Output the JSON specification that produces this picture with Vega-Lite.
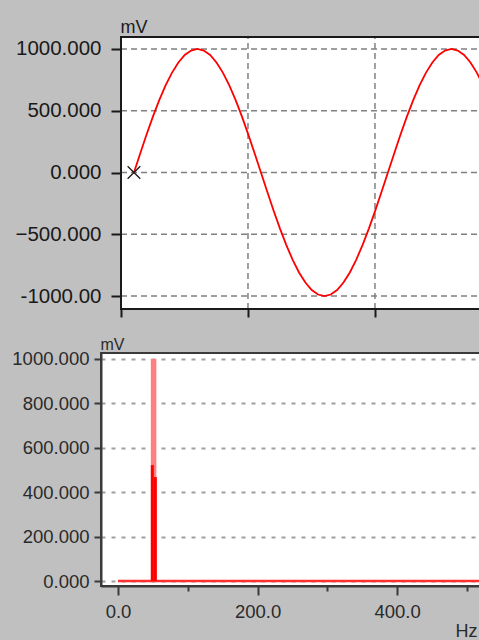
{
  "$schema": "https://vega.github.io/schema/vega-lite/v6.json",
  "background": "#c0c0c0",
  "padding": {"left": 10, "top": 18, "right": 0, "bottom": 0},
  "spacing": 17,
  "config": {"font": "Liberation Sans"},
  "datasets": {
    "wave": [
      {"t": 1.02, "mv": 0}, {"t": 1.52, "mv": 156.4}, {"t": 2.02, "mv": 309.0}, {"t": 2.52, "mv": 454.0},
      {"t": 3.02, "mv": 587.8}, {"t": 3.52, "mv": 707.1}, {"t": 4.02, "mv": 809.0}, {"t": 4.52, "mv": 891.0},
      {"t": 5.02, "mv": 951.1}, {"t": 5.52, "mv": 987.7}, {"t": 6.02, "mv": 1000}, {"t": 6.52, "mv": 987.7},
      {"t": 7.02, "mv": 951.1}, {"t": 7.52, "mv": 891.0}, {"t": 8.02, "mv": 809.0}, {"t": 8.52, "mv": 707.1},
      {"t": 9.02, "mv": 587.8}, {"t": 9.52, "mv": 454.0}, {"t": 10.02, "mv": 309.0}, {"t": 10.52, "mv": 156.4},
      {"t": 11.02, "mv": 0}, {"t": 11.52, "mv": -156.4}, {"t": 12.02, "mv": -309.0}, {"t": 12.52, "mv": -454.0},
      {"t": 13.02, "mv": -587.8}, {"t": 13.52, "mv": -707.1}, {"t": 14.02, "mv": -809.0}, {"t": 14.52, "mv": -891.0},
      {"t": 15.02, "mv": -951.1}, {"t": 15.52, "mv": -987.7}, {"t": 16.02, "mv": -1000}, {"t": 16.52, "mv": -987.7},
      {"t": 17.02, "mv": -951.1}, {"t": 17.52, "mv": -891.0}, {"t": 18.02, "mv": -809.0}, {"t": 18.52, "mv": -707.1},
      {"t": 19.02, "mv": -587.8}, {"t": 19.52, "mv": -454.0}, {"t": 20.02, "mv": -309.0}, {"t": 20.52, "mv": -156.4},
      {"t": 21.02, "mv": 0}, {"t": 21.52, "mv": 156.4}, {"t": 22.02, "mv": 309.0}, {"t": 22.52, "mv": 454.0},
      {"t": 23.02, "mv": 587.8}, {"t": 23.52, "mv": 707.1}, {"t": 24.02, "mv": 809.0}, {"t": 24.52, "mv": 891.0},
      {"t": 25.02, "mv": 951.1}, {"t": 25.52, "mv": 987.7}, {"t": 26.02, "mv": 1000}, {"t": 26.52, "mv": 987.7},
      {"t": 27.02, "mv": 951.1}, {"t": 27.52, "mv": 891.0}, {"t": 28.02, "mv": 809.0}, {"t": 28.52, "mv": 707.1}
    ],
    "marker": [{"t": 1.02, "mv": 0}],
    "frame": [{"t0": 0, "t1": 28.6, "lo": -1105, "hi": 1097}],
    "hgrid": [{"mv": -1000}, {"mv": -500}, {"mv": 0}, {"mv": 500}, {"mv": 1000}],
    "vgrid": [{"t": 10}, {"t": 20}],
    "base": [{"f": 0, "v": 0}, {"f": 100, "v": 0}, {"f": 200, "v": 0}, {"f": 300, "v": 0}, {"f": 400, "v": 0}, {"f": 520, "v": 0}],
    "peak": [{"f": 51, "v": 1000}],
    "bins": [{"f": 49.2, "v": 522}, {"f": 53.5, "v": 468}]
  },
  "vconcat": [
    {
      "width": 380,
      "height": 272,
      "view": {"fill": null, "stroke": null},
      "layer": [
        {
          "data": {"name": "frame"},
          "mark": {"type": "rect", "fill": "white", "strokeWidth": 0},
          "encoding": {
            "x": {"field": "t0", "type": "quantitative",
              "scale": {"domain": [-1.575, 28.35], "nice": false, "zero": false},
              "axis": {"values": [0, 10, 20], "labels": false, "title": null, "tickSize": 8, "tickWidth": 2, "tickColor": "#1a1a1a",
                "domain": false, "grid": false}},
            "x2": {"field": "t1"},
            "y": {"field": "lo", "type": "quantitative",
              "scale": {"domain": [-1105, 1097], "nice": false, "zero": false},
              "axis": {"values": [-1000, -500, 0, 500, 1000], "offset": -20,
                "labelExpr": "datum.value == -1000 ? '-1000.00' : format(datum.value, '.3f')",
                "labelFontSize": 20.5, "labelColor": "#1a1a1a", "labelPadding": 10,
                "tickSize": 10, "tickWidth": 2, "tickColor": "#1a1a1a",
                "domain": false, "grid": false,
                "title": "mV", "titleAngle": 0, "titleAlign": "left", "titleBaseline": "alphabetic",
                "titleX": -1, "titleY": -5, "titleFontSize": 18, "titleFontWeight": "normal", "titleColor": "#1a1a1a"}},
            "y2": {"field": "hi"}
          }
        },
        {
          "data": {"name": "hgrid"},
          "mark": {"type": "rule", "color": "#808080", "strokeWidth": 1.5, "strokeDash": [6, 4]},
          "encoding": {
            "y": {"field": "mv", "type": "quantitative"},
            "x": {"datum": 0},
            "x2": {"datum": 28.6}
          }
        },
        {
          "data": {"name": "vgrid"},
          "mark": {"type": "rule", "color": "#808080", "strokeWidth": 1.5, "strokeDash": [6, 4]},
          "encoding": {
            "x": {"field": "t", "type": "quantitative"},
            "y": {"datum": -1105},
            "y2": {"datum": 1097}
          }
        },
        {
          "data": {"name": "frame"},
          "mark": {"type": "rect", "fill": null, "stroke": "#1a1a1a", "strokeWidth": 2},
          "encoding": {
            "x": {"field": "t0", "type": "quantitative"},
            "x2": {"field": "t1"},
            "y": {"field": "lo", "type": "quantitative"},
            "y2": {"field": "hi"}
          }
        },
        {
          "data": {"name": "wave"},
          "mark": {"type": "line", "color": "#ff0000", "strokeWidth": 1.8, "clip": true},
          "encoding": {
            "x": {"field": "t", "type": "quantitative"},
            "y": {"field": "mv", "type": "quantitative"}
          }
        },
        {
          "data": {"name": "marker"},
          "mark": {"type": "point", "shape": "M-1,-1L1,1M-1,1L1,-1", "filled": false, "stroke": "#1a1a1a", "strokeWidth": 1.3, "size": 160, "opacity": 1},
          "encoding": {
            "x": {"field": "t", "type": "quantitative"},
            "y": {"field": "mv", "type": "quantitative"}
          }
        }
      ]
    },
    {
      "width": 380,
      "height": 233,
      "view": {"fill": "white", "stroke": "#3a3a3a", "strokeWidth": 2},
      "layer": [
        {
          "data": {"name": "base"},
          "mark": {"type": "line", "color": "#ff3030", "strokeWidth": 2.5, "clip": true},
          "encoding": {
            "x": {"field": "f", "type": "quantitative",
              "scale": {"domain": [-24.4, 520.4], "nice": false, "zero": false},
              "axis": {"values": [0, 50, 100, 150, 200, 250, 300, 350, 400, 450, 500],
                "labelExpr": "datum.value % 200 === 0 ? format(datum.value, '.1f') : ''",
                "labelFontSize": 18.5, "labelColor": "#2a2a2a", "labelPadding": 7,
                "tickSize": {"condition": {"test": "datum.value % 200 === 0", "value": 9}, "value": 5},
                "tickWidth": 2, "tickColor": "#3a3a3a", "domainColor": "#3a3a3a", "domainWidth": 2, "grid": false,
                "title": "Hz", "titleAlign": "right", "titleBaseline": "bottom",
                "titleX": 376, "titleY": 54, "titleFontSize": 18, "titleFontWeight": "normal", "titleColor": "#2a2a2a"}},
            "y": {"field": "v", "type": "quantitative",
              "scale": {"domain": [-22.5, 1027], "nice": false, "zero": false},
              "axis": {"values": [0, 200, 400, 600, 800, 1000], "format": ".3f",
                "labelFontSize": 18.5, "labelColor": "#2a2a2a", "labelPadding": 5,
                "tickSize": 7, "tickWidth": 2, "tickColor": "#3a3a3a", "domainColor": "#3a3a3a", "domainWidth": 2,
                "grid": true, "gridColor": "#a0a0a0", "gridDash": [4, 6], "gridWidth": 2,
                "title": "mV", "titleAngle": 0, "titleAlign": "left", "titleBaseline": "alphabetic",
                "titleX": -1, "titleY": -4, "titleFontSize": 16, "titleFontWeight": "normal", "titleColor": "#2a2a2a"}}
          }
        },
        {
          "data": {"name": "peak"},
          "mark": {"type": "rule", "color": "#ff7f7f", "strokeWidth": 5.5},
          "encoding": {
            "x": {"field": "f", "type": "quantitative"},
            "y": {"field": "v", "type": "quantitative"},
            "y2": {"datum": 0}
          }
        },
        {
          "data": {"name": "bins"},
          "mark": {"type": "rule", "color": "#ff0000", "strokeWidth": 3},
          "encoding": {
            "x": {"field": "f", "type": "quantitative"},
            "y": {"field": "v", "type": "quantitative"},
            "y2": {"datum": 0}
          }
        }
      ]
    }
  ]
}
